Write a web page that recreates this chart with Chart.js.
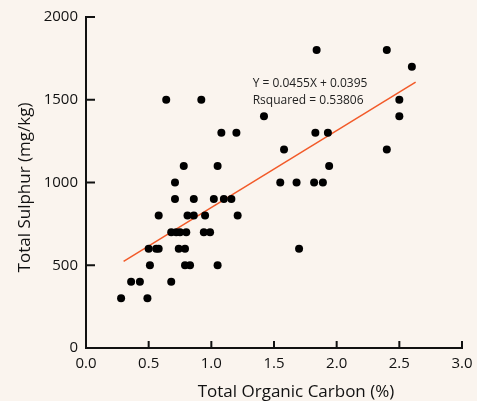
<!DOCTYPE html>
<html>
<head>
<meta charset="utf-8">
<title>Total Sulphur vs Total Organic Carbon</title>
<script src="https://cdn.jsdelivr.net/npm/chart.js@4/dist/chart.umd.min.js"></script>
<style>
  html, body { margin: 0; padding: 0; background: #faf4ee; }
  canvas { display: block; }
</style>
</head>
<body>
<canvas id="chart" width="477" height="401"></canvas>
<script>
// Samples: total organic carbon (%) and total sulphur (mg/kg)
const tocPercent = [
  0.64, 0.92,
  1.84, 2.40,
  2.60,
  2.50,
  1.42, 2.50,
  1.08, 1.20, 1.83, 1.93,
  1.58, 2.40,
  0.78, 1.05, 1.94,
  0.71, 1.55, 1.68, 1.82, 1.89,
  0.71, 0.86, 1.02, 1.10, 1.16,
  0.58, 0.81, 0.86, 0.95, 1.21,
  0.68, 0.72, 0.75, 0.80, 0.94, 0.99,
  0.50, 0.56, 0.58, 0.74, 0.79, 1.70,
  0.51, 0.79, 0.83, 1.05,
  0.36, 0.43, 0.68,
  0.28, 0.49
];
const sulphurMgKg = [
  1500, 1500,
  1800, 1800,
  1700,
  1500,
  1400, 1400,
  1300, 1300, 1300, 1300,
  1200, 1200,
  1100, 1100, 1100,
  1000, 1000, 1000, 1000, 1000,
  900, 900, 900, 900, 900,
  800, 800, 800, 800, 800,
  700, 700, 700, 700, 700, 700,
  600, 600, 600, 600, 600, 600,
  500, 500, 500, 500,
  400, 400, 400,
  300, 300
];

// least-squares fit line end points
const fitX = [0.30, 2.63];
const fitY = [524, 1607];

const xTicks = [0, 0.5, 1.0, 1.5, 2.0, 2.5, 3.0];
const yTicks = [0, 500, 1000, 1500, 2000];

const fitLabel = ['Y = 0.0455X + 0.0395', 'Rsquared = 0.53806'];
const xTitle = 'Total Organic Carbon (%)';
const yTitle = 'Total Sulphur (mg/kg)';

const ink = '#111111';
const fitColor = '#f25a29';
const fontFamily = '"Open Sans", "DejaVu Sans", sans-serif';

// inward tick marks, axis titles and the fit label
const axisDecor = {
  id: 'axisDecor',
  afterDraw(chart) {
    const { ctx, chartArea, scales: { x, y } } = chart;
    ctx.save();
    ctx.fillStyle = ink;
    for (const t of x.ticks) {
      const px = x.getPixelForValue(t.value);
      ctx.fillRect(px - 1, chartArea.bottom - 7, 2, 7);
    }
    for (const t of y.ticks) {
      const py = y.getPixelForValue(t.value);
      ctx.fillRect(chartArea.left, py - 1, 9, 2);
    }

    ctx.fillStyle = '#222';
    ctx.font = '12px ' + fontFamily;
    ctx.textAlign = 'left';
    ctx.textBaseline = 'middle';
    const lx = x.getPixelForValue(1.33);
    const ly = y.getPixelForValue(1600);
    fitLabel.forEach((line, i) => ctx.fillText(line, lx, ly + i * 17));

    ctx.fillStyle = ink;
    ctx.font = '17px ' + fontFamily;
    ctx.textAlign = 'center';
    ctx.fillText(xTitle, chartArea.left + 210, 392);
    ctx.translate(25, (chartArea.top + chartArea.bottom) / 2 + 5);
    ctx.rotate(-Math.PI / 2);
    ctx.fillText(yTitle, 0, 0);
    ctx.restore();
  }
};

new Chart(document.getElementById('chart'), {
  type: 'scatter',
  data: {
    datasets: [
      {
        label: 'Samples',
        data: tocPercent.map((v, i) => ({ x: v, y: sulphurMgKg[i] })),
        backgroundColor: '#000',
        borderWidth: 0,
        pointRadius: 4,
        order: 1
      },
      {
        type: 'line',
        label: 'Fit',
        data: fitX.map((v, i) => ({ x: v, y: fitY[i] })),
        borderColor: fitColor,
        borderWidth: 1.5,
        pointRadius: 0,
        order: 2
      }
    ]
  },
  options: {
    responsive: false,
    animation: false,
    layout: { padding: { left: 0, right: 15, top: 17, bottom: 0 } },
    plugins: { legend: { display: false }, tooltip: { enabled: false } },
    scales: {
      x: {
        type: 'linear',
        min: 0,
        max: 3,
        afterFit(scale) { scale.height = 53; scale.paddingRight = 12; },
        afterBuildTicks(scale) { scale.ticks = xTicks.map(v => ({ value: v })); },
        grid: { drawOnChartArea: false, drawTicks: false },
        border: { display: true, color: ink, width: 2 },
        ticks: {
          padding: 7,
          color: ink,
          font: { family: fontFamily, size: 15 },
          callback: v => v.toFixed(1)
        }
      },
      y: {
        type: 'linear',
        min: 0,
        max: 2000,
        afterFit(scale) { scale.width = 86; },
        afterBuildTicks(scale) { scale.ticks = yTicks.map(v => ({ value: v })); },
        grid: { drawOnChartArea: false, drawTicks: false },
        border: { display: true, color: ink, width: 2 },
        ticks: {
          padding: 8,
          color: ink,
          font: { family: fontFamily, size: 15 },
          callback: v => String(v)
        }
      }
    }
  },
  plugins: [axisDecor]
});
</script>
</body>
</html>
